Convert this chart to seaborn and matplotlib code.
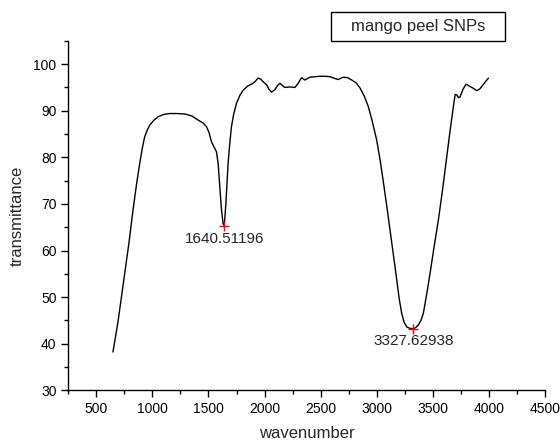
import matplotlib
matplotlib.use("Agg")
import matplotlib.pyplot as plt
from matplotlib.patches import Rectangle
from matplotlib.ticker import MultipleLocator
import pandas as pd
import seaborn as sns

# FTIR spectrum
wavenumber = [648, 693, 753, 790, 827, 860, 887, 910, 931, 955, 976, 1010, 1050, 1100,
              1154, 1220, 1288, 1350, 1407, 1450, 1482, 1505, 1527, 1550, 1571, 1586,
              1600, 1615, 1630, 1640.5, 1655, 1675, 1690, 1705, 1725, 1750, 1780, 1809,
              1850, 1890, 1913, 1943, 1965, 1988, 2018, 2040, 2062, 2092, 2115, 2137,
              2160, 2181, 2230, 2271, 2300, 2330, 2360, 2404, 2450, 2494, 2540, 2583,
              2630, 2657, 2702, 2740, 2777, 2815, 2851, 2890, 2925, 2960, 3000, 3030,
              3059, 3090, 3119, 3150, 3179, 3200, 3223, 3245, 3268, 3295, 3327.6, 3350,
              3371, 3395, 3416, 3445, 3476, 3512, 3550, 3590, 3625, 3655, 3684, 3700,
              3714, 3730, 3744, 3770, 3797, 3833, 3863, 3893, 3920, 3950, 3975, 3997]
transmittance = [38.2, 44.7, 55.1, 61.5, 68.7, 74.5, 78.7, 82.0, 84.4, 85.9, 86.9, 87.9,
                 88.7, 89.2, 89.4, 89.4, 89.3, 88.9, 88.0, 87.4, 86.6, 85.3, 83.3, 82.2,
                 81.2, 78.7, 74.0, 69.0, 65.8, 65.2, 70.0, 78.7, 83.0, 86.6, 89.3, 91.6,
                 93.3, 94.4, 95.3, 95.8, 96.2, 97.0, 96.8, 96.2, 95.6, 94.6, 94.0, 94.5,
                 95.4, 95.9, 95.4, 95.0, 95.1, 95.0, 95.9, 97.1, 96.6, 97.2, 97.3, 97.4,
                 97.4, 97.3, 96.9, 96.7, 97.2, 97.1, 96.6, 96.0, 94.9, 93.1, 90.9, 87.8,
                 83.7, 79.5, 74.8, 69.5, 64.4, 58.9, 53.7, 49.8, 46.5, 44.6, 43.6, 43.3,
                 43.2, 43.5, 44.0, 45.0, 46.5, 50.5, 55.1, 60.8, 66.5, 73.5, 80.1, 85.8,
                 90.9, 93.5, 93.4, 92.8, 93.0, 94.6, 95.7, 95.2, 94.8, 94.3, 94.7, 95.6,
                 96.4, 97.0]

peak_x = [1640.51196, 3327.62938]
peak_y = [65.2, 43.2]
legend_label = "mango peel SNPs"

sns.set_style("ticks")
plt.rcParams["font.family"] = ["Liberation Sans", "DejaVu Sans"]
plt.rcParams["xtick.major.size"] = 5
plt.rcParams["ytick.major.size"] = 5
plt.rcParams["xtick.minor.size"] = 3
plt.rcParams["ytick.minor.size"] = 3

df = pd.DataFrame({"wavenumber": wavenumber, "transmittance": transmittance})

fig = plt.figure(figsize=(5.6, 4.44), dpi=100)
ax = fig.add_axes([0.122, 0.121, 0.851, 0.787])

sns.lineplot(data=df, x="wavenumber", y="transmittance", color="black",
             linewidth=1.0, sort=False, ax=ax)
sns.scatterplot(x=peak_x, y=peak_y, marker="+", color="red", s=45,
                linewidth=1.0, ax=ax, zorder=5)
for px, py in zip(peak_x, peak_y):
    ax.annotate(f"{px:.5f}", (px, py), xytext=(0, -4), textcoords="offset points",
                ha="center", va="top", fontsize=11)

ax.set_xlim(250, 4500)
ax.set_ylim(30, 105)
ax.xaxis.set_major_locator(MultipleLocator(500))
ax.xaxis.set_minor_locator(MultipleLocator(250))
ax.yaxis.set_major_locator(MultipleLocator(10))
ax.yaxis.set_minor_locator(MultipleLocator(5))
ax.tick_params(which="both", direction="out", width=1, colors="black", labelsize=10)
ax.set_xticks(range(500, 4501, 500))
ax.set_xlabel("wavenumber", fontsize=12, labelpad=7)
ax.set_ylabel("transmittance", fontsize=12, labelpad=6)
sns.despine(ax=ax)
for s in ("left", "bottom"):
    ax.spines[s].set_color("black")
    ax.spines[s].set_linewidth(1)

# legend box
fig.add_artist(Rectangle((331 / 560, 1 - 41 / 444), 174 / 560, 29 / 444,
                         transform=fig.transFigure, facecolor="white",
                         edgecolor="black", linewidth=1))
fig.text(418 / 560, 1 - 26.5 / 444, legend_label, ha="center", va="center", fontsize=12)

fig.savefig("out.png", dpi=100)
